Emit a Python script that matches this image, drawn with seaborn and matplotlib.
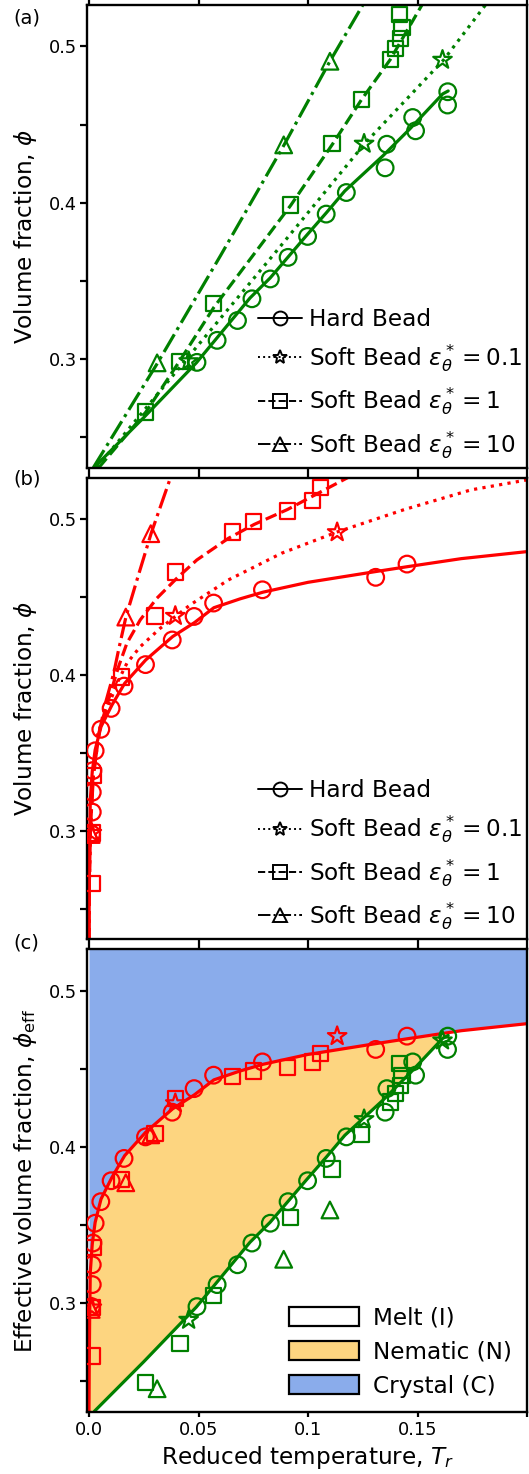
import numpy as np
import matplotlib
matplotlib.use("Agg")
import matplotlib.pyplot as plt
import seaborn as sns
from matplotlib.lines import Line2D
from matplotlib.patches import Patch
from matplotlib.ticker import MultipleLocator, FixedLocator, NullFormatter

# ---------------- data ----------------
# Hard bead (actual volume fraction = effective volume fraction)
phi_hard = [0.2978, 0.3119, 0.3246, 0.3385, 0.3512, 0.3650, 0.3784, 0.3927,
            0.4065, 0.4223, 0.4374, 0.4460, 0.4545, 0.4625, 0.4710]
T_IN_hard = [0.0493, 0.0585, 0.0678, 0.0744, 0.0828, 0.0909, 0.0998, 0.1083,
             0.1175, 0.1352, 0.1360, 0.1491, 0.1478, 0.1637, 0.1638]
T_NC_hard = [0.0012, 0.0015, 0.0015, 0.0018, 0.0028, 0.0054, 0.0101, 0.0160,
             0.0258, 0.0380, 0.0480, 0.0569, 0.0792, 0.1309, 0.1452]

# Soft bead eps = 0.1
phi_s01 = [0.2985, 0.4377, 0.4914]
T_IN_s01 = [0.0455, 0.1256, 0.1614]
T_NC_s01 = [0.0013, 0.0394, 0.1133]
phieff_IN_s01 = [0.2893, 0.4178, 0.4682]
phieff_NC_s01 = [0.2972, 0.4280, 0.4710]

# Soft bead eps = 1
phi_s1 = [0.2660, 0.2985, 0.3354, 0.3985, 0.4377, 0.4660, 0.4915, 0.4985,
          0.5050, 0.5120, 0.5203]
T_IN_s1 = [0.0257, 0.0415, 0.0570, 0.0919, 0.1110, 0.1244, 0.1375, 0.1398,
           0.1421, 0.1429, 0.1418]
T_NC_s1 = [0.0014, 0.0014, 0.0021, 0.0147, 0.0302, 0.0396, 0.0655, 0.0752,
           0.0905, 0.1021, 0.1056]
phieff_IN_s1 = [0.2493, 0.2743, 0.3048, 0.3549, 0.3860, 0.4082, 0.4289,
                0.4343, 0.4396, 0.4460, 0.4535]
phieff_NC_s1 = [0.2662, 0.2973, 0.3358, 0.3790, 0.4086, 0.4311, 0.4450,
                0.4486, 0.4510, 0.4545, 0.4598]

# Soft bead eps = 10
phi_s10 = [0.2975, 0.4370, 0.4905]
T_IN_s10 = [0.0311, 0.0889, 0.1100]
T_NC_s10 = [0.0010, 0.0168, 0.0282]
phieff_IN_s10 = [0.2452, 0.3281, 0.3597]
phieff_NC_s10 = [0.2960, 0.3771, 0.4078]

# Fitted boundary curves
# panel (a): isotropic-nematic, green
fitA_hard_T = [0.0025, 0.0250, 0.0490, 0.0735, 0.0827, 0.0993, 0.1084, 0.1168,
               0.1342, 0.1464, 0.1615, 0.1640]
fitA_hard_phi = [0.2308, 0.2625, 0.2975, 0.3390, 0.3518, 0.3790, 0.3936, 0.4075,
                 0.4300, 0.4471, 0.4696, 0.4715]
fitA_s01_T = [0.0035, 0.0440, 0.0850, 0.1260, 0.1620, 0.1810]
fitA_s01_phi = [0.2305, 0.2990, 0.3680, 0.4380, 0.4915, 0.5265]
fitA_s1_T = [0.0045, 0.0259, 0.0413, 0.0570, 0.0921, 0.1113, 0.1244, 0.1375,
             0.1520]
fitA_s1_phi = [0.2305, 0.2659, 0.2985, 0.3330, 0.3983, 0.4377, 0.4659, 0.4915,
               0.5265]
fitA_s10_T = [0.0020, 0.0313, 0.0600, 0.0890, 0.1098, 0.1250]
fitA_s10_phi = [0.2305, 0.2974, 0.3660, 0.4368, 0.4900, 0.5265]

# panel (b): nematic-crystal, red
fitB_hard_T = [0.0000, 0.0001, 0.0003, 0.0006, 0.0015, 0.0028, 0.0055, 0.0105,
               0.0163, 0.0259, 0.0382, 0.0482, 0.0570, 0.0690, 0.0795, 0.1000,
               0.1300, 0.1452, 0.1700, 0.2000]
fitB_hard_phi = [0.2300, 0.2560, 0.2900, 0.3200, 0.3380, 0.3517, 0.3667, 0.3806,
                 0.3945, 0.4095, 0.4245, 0.4335, 0.4430, 0.4487, 0.4530, 0.4593,
                 0.4660, 0.4693, 0.4745, 0.4790]
fitB_s01_T = [0.0000, 0.0001, 0.0005, 0.0015, 0.0040, 0.0128, 0.0173, 0.0234,
              0.0325, 0.0462, 0.0636, 0.0880, 0.1133, 0.1440, 0.1744, 0.2000]
fitB_s01_phi = [0.2300, 0.2600, 0.2950, 0.3300, 0.3620, 0.3945, 0.4074, 0.4180,
                0.4298, 0.4448, 0.4608, 0.4780, 0.4916, 0.5060, 0.5186, 0.5250]
fitB_s1_T = [0.0000, 0.0001, 0.0006, 0.0018, 0.0050, 0.0135, 0.0173, 0.0234,
             0.0310, 0.0401, 0.0492, 0.0636, 0.0755, 0.0906, 0.1059, 0.1183]
fitB_s1_phi = [0.2300, 0.2620, 0.2980, 0.3340, 0.3660, 0.4052, 0.4202, 0.4352,
               0.4491, 0.4619, 0.4736, 0.4875, 0.4965, 0.5060, 0.5174, 0.5266]
fitB_s10_T = [0.0000, 0.0001, 0.0006, 0.0020, 0.0045, 0.0075, 0.0113, 0.0135,
              0.0169, 0.0219, 0.0284, 0.0371]
fitB_s10_phi = [0.2300, 0.2640, 0.3000, 0.3350, 0.3620, 0.3817, 0.4010, 0.4159,
                0.4373, 0.4608, 0.4908, 0.5260]

x_ticks = [0.0, 0.05, 0.10, 0.15, 0.20]
x_ticklabels = ["0.0", "0.05", "0.1", "0.15", ""]
legend_labels = ["Hard Bead",
                 r"Soft Bead $\varepsilon_\theta^* = 0.1$",
                 r"Soft Bead $\varepsilon_\theta^* = 1$",
                 r"Soft Bead $\varepsilon_\theta^* = 10$"]
phase_labels = ["Melt (I)", "Nematic (N)", "Crystal (C)"]

# ---------------- style ----------------
sns.set_style("ticks")
plt.rcParams["font.family"] = ["DejaVu Sans"]
plt.rcParams["mathtext.fontset"] = "dejavusans"
for key in ["text.color", "axes.labelcolor", "xtick.color", "ytick.color",
            "axes.edgecolor"]:
    plt.rcParams[key] = "black"
plt.rcParams["axes.linewidth"] = 1.7

GREEN = "#008000"
RED = "#ff0000"
BLUE_FILL = "#8aaceb"
ORANGE_FILL = "#fdd580"
LW = 2.3
FS_LABEL = 16.7
FS_TICK = 12.8

XLIM = (-0.0009, 0.2)
YLIM = (0.2305, 0.5265)

fig = plt.figure(figsize=(5.29, 14.74), dpi=100)
axA = fig.add_axes([0.1645, 0.6828, 0.8318, 0.3138])
axB = fig.add_axes([0.1645, 0.3630, 0.8318, 0.3130])
axC = fig.add_axes([0.1645, 0.04227, 0.8318, 0.31357])

styles = ["-", ":", "--", "-."]
markers = ["o", "*", "s", "^"]
msizes = [12.0, 14.0, 11.0, 12.0]


def curve(ax, T, phi, color, ls):
    sns.lineplot(x=T, y=phi, ax=ax, color=color, linestyle=ls, linewidth=LW,
                 sort=False, estimator=None, zorder=2)


def pts(ax, T, phi, color, marker, ms):
    sns.scatterplot(x=T, y=phi, ax=ax, marker=marker, s=ms ** 2, color=color,
                    facecolor="none", edgecolor=color, linewidth=1.6,
                    zorder=3, legend=False, clip_on=True)


# panel (a)
for (T, p), ls in zip([(fitA_hard_T, fitA_hard_phi), (fitA_s01_T, fitA_s01_phi),
                       (fitA_s1_T, fitA_s1_phi), (fitA_s10_T, fitA_s10_phi)], styles):
    curve(axA, T, p, GREEN, ls)
for (T, p), m, ms in zip([(T_IN_hard, phi_hard), (T_IN_s01, phi_s01),
                          (T_IN_s1, phi_s1), (T_IN_s10, phi_s10)], markers, msizes):
    pts(axA, T, p, GREEN, m, ms)

# panel (b)
for (T, p), ls in zip([(fitB_hard_T, fitB_hard_phi), (fitB_s01_T, fitB_s01_phi),
                       (fitB_s1_T, fitB_s1_phi), (fitB_s10_T, fitB_s10_phi)], styles):
    curve(axB, T, p, RED, ls)
for (T, p), m, ms in zip([(T_NC_hard, phi_hard), (T_NC_s01, phi_s01),
                          (T_NC_s1, phi_s1), (T_NC_s10, phi_s10)], markers, msizes):
    pts(axB, T, p, RED, m, ms)

# panel (c): phase regions
rT = np.array(fitB_hard_T)
rP = np.array(fitB_hard_phi)
gT = np.array(fitA_hard_T)
gP = np.array(fitA_hard_phi)
axC.fill_between(rT, rP, 0.6, color=BLUE_FILL, lw=0, zorder=0)
keep = rT <= gT[-1]
polyT = np.concatenate([rT[keep], [gT[-1]], gT[::-1], [gT[0] - 0.0003, XLIM[0]]])
polyP = np.concatenate([rP[keep], [gP[-1]], gP[::-1], [0.2290, 0.2290]])
axC.fill(polyT, polyP, color=ORANGE_FILL, lw=0, zorder=0)
curve(axC, fitB_hard_T, fitB_hard_phi, RED, "-")
curve(axC, fitA_hard_T, fitA_hard_phi, GREEN, "-")
for (T, p), m, ms in zip([(T_NC_hard, phi_hard), (T_NC_s01, phieff_NC_s01),
                          (T_NC_s1, phieff_NC_s1), (T_NC_s10, phieff_NC_s10)],
                         markers, msizes):
    pts(axC, T, p, RED, m, ms)
for (T, p), m, ms in zip([(T_IN_hard, phi_hard), (T_IN_s01, phieff_IN_s01),
                          (T_IN_s1, phieff_IN_s1), (T_IN_s10, phieff_IN_s10)],
                         markers, msizes):
    pts(axC, T, p, GREEN, m, ms)

# axes formatting
for ax in (axA, axB, axC):
    ax.set_xlim(*XLIM)
    ax.set_ylim(*YLIM)
    ax.xaxis.set_major_locator(FixedLocator(x_ticks))
    ax.yaxis.set_minor_locator(MultipleLocator(0.05))
    ax.yaxis.set_minor_formatter(NullFormatter())
    ax.set_yticks([0.3, 0.4, 0.5])
    ax.set_yticklabels(["0.3", "0.4", "0.5"])
    ax.tick_params(axis="x", which="both", direction="out", top=True, bottom=True,
                   length=3.5, width=1.6, labelsize=FS_TICK, color="black")
    ax.tick_params(axis="y", which="both", direction="out", left=True, right=False,
                   length=5, width=1.6, labelsize=FS_TICK, pad=2.5, color="black")
    for s in ax.spines.values():
        s.set_visible(True)
        s.set_linewidth(1.7)
        s.set_color("black")
    ax.set_xlabel("")
    ax.set_ylabel("")

axA.set_xticklabels([])
axB.set_xticklabels([])
axC.set_xticklabels(x_ticklabels)

axA.set_ylabel(r"Volume fraction, $\phi$", fontsize=FS_LABEL)
axB.set_ylabel(r"Volume fraction, $\phi$", fontsize=FS_LABEL)
axC.set_ylabel(r"Effective volume fraction, $\phi_{\mathrm{eff}}$", fontsize=FS_LABEL)
for ax in (axA, axB, axC):
    ax.yaxis.set_label_coords(-0.108, 0.5)
axC.set_xlabel(r"Reduced temperature, $T_r$", fontsize=FS_LABEL, labelpad=3)

# legends (a), (b)
handles = [Line2D([], [], color="black", linestyle=ls, marker=m, mfc="none",
                  mec="black", markersize=10, lw=1.4, mew=1.4)
           for ls, m in zip(styles, markers)]
for ax in (axA, axB):
    ax.legend(handles, legend_labels, loc="lower right",
              bbox_to_anchor=(1.0, 0.005), frameon=False, fontsize=FS_LABEL,
              handlelength=1.9, handletextpad=0.3, labelspacing=0.5,
              borderpad=0.2, borderaxespad=0.0)

# legend (c)
phase_handles = [Patch(facecolor="white", edgecolor="black", lw=1.6),
                 Patch(facecolor=ORANGE_FILL, edgecolor="black", lw=1.6),
                 Patch(facecolor=BLUE_FILL, edgecolor="black", lw=1.6)]
axC.legend(phase_handles, phase_labels, loc="lower right",
           bbox_to_anchor=(0.975, 0.02), frameon=False, fontsize=FS_LABEL,
           handlelength=3.0, handleheight=0.9, handletextpad=0.58,
           labelspacing=0.48, borderpad=0.2, borderaxespad=0.0)

# panel letters
fig.text(0.0255, 1 - 18.3 / 1474, "(a)", fontsize=14, ha="left", va="center")
fig.text(0.0255, 1 - 479.0 / 1474, "(b)", fontsize=14, ha="left", va="center")
fig.text(0.0255, 1 - 943.0 / 1474, "(c)", fontsize=14, ha="left", va="center")

fig.savefig("out.png", dpi=100)
